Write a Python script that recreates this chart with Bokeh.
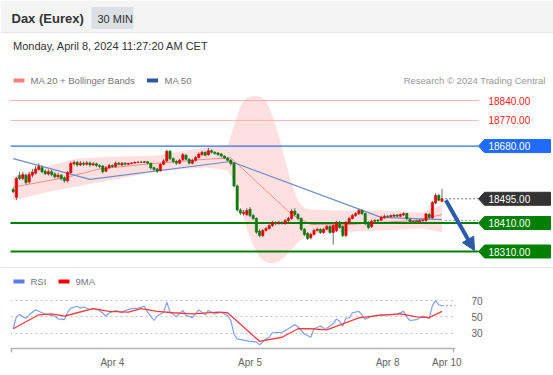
from bokeh.plotting import figure
from bokeh.layouts import column
from bokeh.models import (Range1d, Label, Arrow, NormalHead, LinearAxis,
                          FixedTicker, ColumnDataSource, Grid)
from bokeh.embed import file_html
from bokeh.resources import INLINE

FONT = "Liberation Sans"

# ---------------- data ----------------
opens = [18528, 18500, 18577, 18566, 18578, 18554, 18578, 18585, 18598, 18604,
         18592, 18582, 18590, 18582, 18572, 18578, 18568, 18558, 18587, 18618,
         18623, 18614, 18620, 18616, 18621, 18614, 18618, 18612, 18610, 18592,
         18604, 18612, 18608, 18620, 18614, 18620, 18616, 18619, 18621, 18623,
         18624, 18623, 18625, 18620, 18604, 18600, 18594, 18616, 18628, 18662,
         18636, 18626, 18620, 18632, 18648, 18634, 18620, 18630, 18640, 18650,
         18658, 18650, 18664, 18658, 18656, 18652, 18645, 18638, 18630, 18620,
         18540, 18456, 18443, 18440, 18458, 18436, 18426, 18382, 18366, 18384,
         18391, 18401, 18412, 18408, 18412, 18408, 18419, 18426, 18452, 18440,
         18426, 18388, 18374, 18358, 18370, 18384, 18388, 18377, 18388, 18398,
         18377, 18384, 18412, 18398, 18366, 18412, 18426, 18436, 18443, 18454,
         18443, 18412, 18398, 18416, 18420, 18420, 18428, 18434, 18432, 18434,
         18438, 18434, 18438, 18443, 18422, 18414, 18418, 18414, 18418, 18419,
         18440, 18428, 18480, 18507, 18486]
closes = [18520, 18566, 18566, 18580, 18552, 18580, 18588, 18600, 18608, 18590,
          18583, 18590, 18580, 18572, 18578, 18566, 18558, 18587, 18619, 18623,
          18614, 18620, 18616, 18621, 18614, 18618, 18612, 18608, 18590, 18604,
          18612, 18608, 18620, 18616, 18620, 18616, 18619, 18621, 18623, 18624,
          18623, 18625, 18620, 18603, 18598, 18592, 18616, 18628, 18662, 18636,
          18626, 18620, 18630, 18650, 18634, 18620, 18630, 18640, 18652, 18658,
          18648, 18664, 18658, 18654, 18650, 18645, 18638, 18630, 18618, 18540,
          18456, 18445, 18448, 18454, 18436, 18426, 18378, 18366, 18384, 18391,
          18401, 18412, 18408, 18412, 18409, 18419, 18426, 18452, 18440, 18426,
          18388, 18370, 18356, 18370, 18384, 18388, 18377, 18388, 18398, 18377,
          18401, 18412, 18394, 18366, 18412, 18426, 18436, 18443, 18454, 18443,
          18408, 18394, 18416, 18419, 18417, 18430, 18434, 18432, 18436, 18438,
          18434, 18440, 18443, 18426, 18414, 18416, 18414, 18419, 18421, 18442,
          18430, 18482, 18507, 18490, 18495]
highs = [18535, 18572, 18590, 18590, 18582, 18590, 18600, 18610, 18620, 18612,
         18598, 18598, 18596, 18588, 18586, 18582, 18574, 18592, 18626, 18630,
         18628, 18628, 18626, 18628, 18626, 18624, 18622, 18616, 18614, 18610,
         18618, 18616, 18626, 18624, 18624, 18624, 18622, 18624, 18626, 18627,
         18627, 18628, 18628, 18622, 18608, 18604, 18620, 18634, 18668, 18666,
         18640, 18632, 18636, 18656, 18652, 18638, 18636, 18646, 18658, 18664,
         18662, 18674, 18668, 18662, 18660, 18656, 18648, 18642, 18634, 18624,
         18545, 18462, 18456, 18462, 18466, 18442, 18430, 18388, 18390, 18396,
         18406, 18418, 18416, 18418, 18416, 18424, 18432, 18458, 18462, 18446,
         18430, 18392, 18378, 18376, 18390, 18394, 18392, 18394, 18404, 18402,
         18410, 18418, 18418, 18402, 18418, 18432, 18442, 18448, 18460, 18458,
         18446, 18416, 18422, 18424, 18424, 18436, 18440, 18438, 18440, 18442,
         18442, 18444, 18448, 18446, 18426, 18420, 18422, 18424, 18426, 18446,
         18446, 18488, 18514, 18512, 18530]
lows = [18515, 18490, 18560, 18560, 18545, 18548, 18570, 18580, 18594, 18585,
        18578, 18576, 18574, 18566, 18566, 18560, 18552, 18552, 18582, 18612,
        18608, 18610, 18610, 18612, 18608, 18610, 18606, 18602, 18584, 18588,
        18600, 18604, 18604, 18612, 18610, 18612, 18613, 18616, 18618, 18620,
        18620, 18620, 18616, 18598, 18592, 18586, 18590, 18612, 18624, 18630,
        18620, 18614, 18616, 18628, 18630, 18616, 18616, 18626, 18636, 18646,
        18644, 18646, 18654, 18650, 18646, 18640, 18634, 18626, 18612, 18535,
        18450, 18438, 18436, 18434, 18430, 18420, 18372, 18360, 18360, 18380,
        18386, 18396, 18402, 18404, 18404, 18404, 18414, 18422, 18434, 18420,
        18382, 18364, 18350, 18352, 18366, 18380, 18372, 18372, 18384, 18372,
        18334, 18378, 18390, 18360, 18360, 18408, 18422, 18432, 18438, 18438,
        18402, 18388, 18392, 18412, 18412, 18416, 18424, 18428, 18428, 18430,
        18430, 18430, 18434, 18420, 18410, 18410, 18410, 18410, 18414, 18414,
        18424, 18424, 18476, 18486, 18482]

ma20_idx = [0, 17, 27, 43, 58, 68, 87, 93, 102, 115, 127, 134]
ma20_val = [18536, 18571, 18600, 18618, 18632, 18639, 18440, 18405, 18403, 18412, 18420, 18440]

ma50_idx = [0, 24, 68, 115, 134]
ma50_val = [18636, 18563, 18626, 18430, 18422]

bb_idx = [0, 10, 20, 30, 45, 60, 67, 69, 71, 73, 75, 77, 79, 81, 83, 85, 87, 89, 91, 93, 100, 115, 128, 134]
bb_upper = [18573, 18608, 18636, 18643, 18647, 18675, 18682, 18752, 18822, 18850, 18857, 18854,
            18840, 18787, 18717, 18629, 18549, 18489, 18464, 18457, 18454, 18454, 18447, 18475]
bb_lower = [18489, 18517, 18538, 18559, 18591, 18605, 18594, 18559, 18471, 18391, 18331, 18289,
            18271, 18268, 18275, 18292, 18317, 18342, 18359, 18370, 18377, 18384, 18391, 18377]

red_levels = [18840, 18770]
tag_levels = [18680, 18495, 18410, 18310]
tag_colors = ["#1f6bff", "#333333", "#008000", "#008000"]
line_levels = [18680, 18410, 18310]
line_colors = ["#2f6fe8", "#008000", "#008000"]
line_widths = [1.2, 2, 2]
last_price = 18495
target = 18310

rsi_idx = [0, 1, 2, 4, 5, 7, 9, 11, 13, 14, 16, 17, 18, 20, 21, 22, 24, 25, 27, 29,
           30, 32, 34, 35, 37, 39, 41, 42, 44, 45, 47, 48, 49, 50, 51, 53, 54, 56, 57, 58,
           60, 61, 63, 65, 67, 68, 69, 70, 72, 74, 76, 77, 79, 80, 81, 84, 86, 88, 89, 90,
           91, 93, 94, 96, 97, 98, 100, 101, 102, 103, 104, 105, 106, 108, 109, 110, 112, 114, 116, 118,
           120, 122, 123, 124, 126, 128, 130, 131, 132, 133, 134]
rsi_val = [35.4, 50, 53, 48, 52.5, 58.6, 55, 52.5, 51, 47.6, 46.5, 55.7, 60.6, 63, 60.6, 62, 59, 60, 57.8, 51,
           54.7, 57.8, 55, 57.8, 60, 60.6, 63, 55.7, 45.5, 51, 55.7, 68, 55.7, 53.5, 50, 58, 52, 49, 53.5, 58.5,
           52.5, 57.8, 53.5, 55.7, 51.5, 45.5, 29, 23, 21.5, 20, 19.3, 15.7, 23, 25, 30.5, 31, 35.4, 40.6, 37.5, 33.5,
           29, 25, 35.4, 38.7, 36, 36, 41.4, 47.5, 44.6, 38.7, 48.6, 48.6, 55, 56.7, 52.5, 47, 50.5, 52, 52.5, 52.5,
           53.5, 56.7, 50, 45.5, 46.5, 51, 48, 63.8, 70, 64.5, 63.8]
ma9_idx = [0, 8, 12, 16, 20, 25, 30, 36, 40, 45, 50, 56, 64, 67, 77, 84, 89, 93, 98, 103, 108, 115, 121, 126, 130, 134]
ma9_val = [35.4, 52.5, 53.5, 51, 55, 60, 56.7, 55.7, 60, 56.7, 55, 53.5, 55.7, 55, 20, 25, 35.4, 35.4, 34,
           41.4, 48.6, 52, 53.5, 50, 49, 56.7]
rsi_ticks = [30, 50, 70]

date_pos = [31, 74, 117, 135.5]
date_labels = ["Apr 4", "Apr 5", "Apr 8", "Apr 10"]

# ---------------- geometry helpers (page pixels -> data) ----------------
K = 0.28491          # px per index point
BAR = 3.2            # px per bar


def X(px):
    return (px - 12.7) / BAR


def Y(py):
    return 18840 - (py - 100) / K


def R(py):
    return 70 - (py - 300) / 0.8167


W = 553
H_MAIN = 268
H_RSI = 107

# ---------------- main figure ----------------
p = figure(width=W, height=H_MAIN, x_range=Range1d(X(0), X(W)), y_range=Range1d(Y(H_MAIN), Y(0)),
           output_backend="svg", toolbar_location=None, min_border=0,
           x_axis_location=None, y_axis_location=None)
p.grid.visible = False
p.outline_line_color = None
p.background_fill_color = "white"

# header
p.quad(left=[X(0)], right=[X(W)], top=[Y(0)], bottom=[Y(32)], fill_color="#f4f4f4", line_color=None)
p.segment(x0=[X(0)], x1=[X(W)], y0=[Y(32)], y1=[Y(32)], line_color="#e6e6e6", line_width=1)
p.quad(left=[X(91)], right=[X(133)], top=[Y(6.5)], bottom=[Y(28.5)], fill_color="#dcdfe4", line_color=None)
p.add_layout(Label(x=X(11), y=Y(17.5), text="Dax (Eurex)", text_font=FONT, text_font_size="13px",
                   text_font_style="bold", text_color="#333333", text_baseline="middle"))
p.add_layout(Label(x=X(97), y=Y(18), text="30 MIN", text_font=FONT, text_font_size="11px",
                   text_color="#333333", text_baseline="middle"))
p.add_layout(Label(x=X(12.5), y=Y(45), text="Monday, April 8, 2024 11:27:20 AM CET", text_font=FONT,
                   text_font_size="11px", text_color="#333333", text_baseline="middle"))

# legend
p.rect(x=[X(18.5)], y=[Y(80)], width=11, height=4, width_units="screen", height_units="screen",
       fill_color="#ff7f7f", line_color=None)
p.add_layout(Label(x=X(30), y=Y(80), text="MA 20 + Bollinger Bands", text_font=FONT,
                   text_font_size="9.5px", text_color="#777777", text_baseline="middle"))
p.rect(x=[X(152)], y=[Y(80)], width=11, height=4, width_units="screen", height_units="screen",
       fill_color="#2c5aa0", line_color=None)
p.add_layout(Label(x=X(164), y=Y(80), text="MA 50", text_font=FONT,
                   text_font_size="9.5px", text_color="#777777", text_baseline="middle"))
p.add_layout(Label(x=X(545), y=Y(80), text="Research \u00a9 2024 Trading Central", text_font=FONT,
                   text_font_size="9.5px", text_color="#999999", text_baseline="middle", text_align="right"))

# Bollinger band + moving averages
p.varea(x=bb_idx, y1=bb_lower, y2=bb_upper, fill_color="#ff0000", fill_alpha=0.12)
p.line(ma20_idx, ma20_val, line_color="#ff8c8c", line_width=1)
p.line(ma50_idx, ma50_val, line_color="#6f8cc8", line_width=1.2)

# levels
for lv in red_levels:
    p.segment(x0=[X(10)], x1=[X(478)], y0=[lv], y1=[lv], line_color="#ffb3b3", line_width=1)
    p.add_layout(Label(x=X(488), y=lv, text=f"{lv:.2f}", text_font=FONT, text_font_size="10px",
                       text_color="#ff2020", text_baseline="middle"))
for lv, c, w in zip(line_levels, line_colors, line_widths):
    p.segment(x0=[X(10)], x1=[X(478)], y0=[lv], y1=[lv], line_color=c, line_width=w)

n = len(closes)
idx = list(range(n))
# dotted extensions
p.line([n - 1 + 1, X(478)], [last_price, last_price], line_color="#777777", line_dash="2 2", line_width=1)
p.line([n - 1 + 1, X(478)], [ma50_val[-1] - 3, ma50_val[-1] - 3], line_color="#7f9fe0",
       line_dash="2 2", line_width=1)

# candles
up = "#e00000"
dn = "#0a7a0a"
colors = [up if c >= o else dn for o, c in zip(opens, closes)]
src = ColumnDataSource(dict(x=idx, o=opens, c=closes, h=highs, l=lows,
                            top=[max(o, c) for o, c in zip(opens, closes)],
                            bot=[min(o, c) for o, c in zip(opens, closes)], col=colors))
p.segment(x0="x", x1="x", y0="l", y1="h", source=src, line_color="#6a6a6a", line_width=1)
p.vbar(x="x", width=0.7, top="top", bottom="bot", source=src, fill_color="col", line_color="col",
       line_width=0.6)

# tags
hh = 6.5 / K
xs, ys = [], []
for lv in tag_levels:
    xs.append([X(478), X(484), X(550), X(550), X(484)])
    ys.append([lv, lv + hh, lv + hh, lv - hh, lv - hh])
p.patches(xs, ys, fill_color=tag_colors, line_color=tag_colors)
for lv in tag_levels:
    p.add_layout(Label(x=X(488), y=lv, text=f"{lv:.2f}", text_font=FONT, text_font_size="10px",
                       text_color="white", text_baseline="middle"))

# forecast arrow
p.add_layout(Arrow(end=NormalHead(size=13, fill_color="#2b5ba8", line_color="#2b5ba8"),
                   x_start=n - 1 + 1.2, y_start=last_price - 5, x_end=X(474), y_end=target + 3,
                   line_color="#2b5ba8", line_width=4))

# separator
p.segment(x0=[X(0)], x1=[X(W)], y0=[Y(267)], y1=[Y(267)], line_color="#e6e6e6", line_width=1)

# ---------------- RSI figure ----------------
r = figure(width=W, height=H_RSI, x_range=Range1d(X(10), X(455)), y_range=Range1d(R(348), R(H_MAIN)),
           output_backend="svg", toolbar_location=None, min_border_left=10, min_border_right=W - 455,
           min_border_top=0, min_border_bottom=H_MAIN + H_RSI - 348,
           x_axis_location=None, y_axis_location=None)
r.outline_line_color = None
r.grid.visible = False
for fig in (p, r):
    if hasattr(fig, "frame_align"):
        fig.frame_align = False

r.add_layout(Grid(dimension=1, ticker=FixedTicker(ticks=rsi_ticks), grid_line_color="#c4c4c4",
                  grid_line_dash="2 3", grid_line_width=1))

ax_r = LinearAxis(ticker=FixedTicker(ticks=rsi_ticks), axis_line_color=None, major_tick_line_color=None,
                  minor_tick_line_color=None, major_label_standoff=10,
                  major_label_text_font=FONT, major_label_text_font_size="10px",
                  major_label_text_color="#666666")
r.add_layout(ax_r, "right")

ax_b = LinearAxis(ticker=FixedTicker(ticks=date_pos, minor_ticks=[X(10.5), X(452.5)]),
                  major_label_overrides={k: v for k, v in zip(date_pos, date_labels)},
                  axis_line_color="#b5b5b5", axis_line_width=1.5,
                  major_tick_line_color=None, major_tick_out=0, major_tick_in=0,
                  minor_tick_line_color="#b5b5b5", minor_tick_line_width=1.5,
                  minor_tick_out=4, minor_tick_in=0, major_label_standoff=4,
                  major_label_text_font=FONT, major_label_text_font_size="10px",
                  major_label_text_color="#666666")
r.add_layout(ax_b, "below")

r.line(rsi_idx, rsi_val, line_color="#7f9ff0", line_width=1.2)
r.line(ma9_idx, ma9_val, line_color="#ff3b3b", line_width=1.3)
r.line([rsi_idx[-1], X(455)], [rsi_val[-1], rsi_val[-1]], line_color="#9fb5f0", line_dash="2 2",
       line_width=1.2)

r.rect(x=[X(18.5)], y=[R(281)], width=11, height=4, width_units="screen", height_units="screen",
       fill_color="#5b7fe0", line_color=None)
r.add_layout(Label(x=X(30), y=R(281), text="RSI", text_font=FONT, text_font_size="9.5px",
                   text_color="#777777", text_baseline="middle"))
r.rect(x=[X(63.5)], y=[R(281)], width=11, height=4, width_units="screen", height_units="screen",
       fill_color="#ee0000", line_color=None)
r.add_layout(Label(x=X(75), y=R(281), text="9MA", text_font=FONT, text_font_size="9.5px",
                   text_color="#777777", text_baseline="middle"))

layout = column(p, r, spacing=0)
open("out.html", "w").write(file_html(layout, INLINE, title="Dax (Eurex)"))
